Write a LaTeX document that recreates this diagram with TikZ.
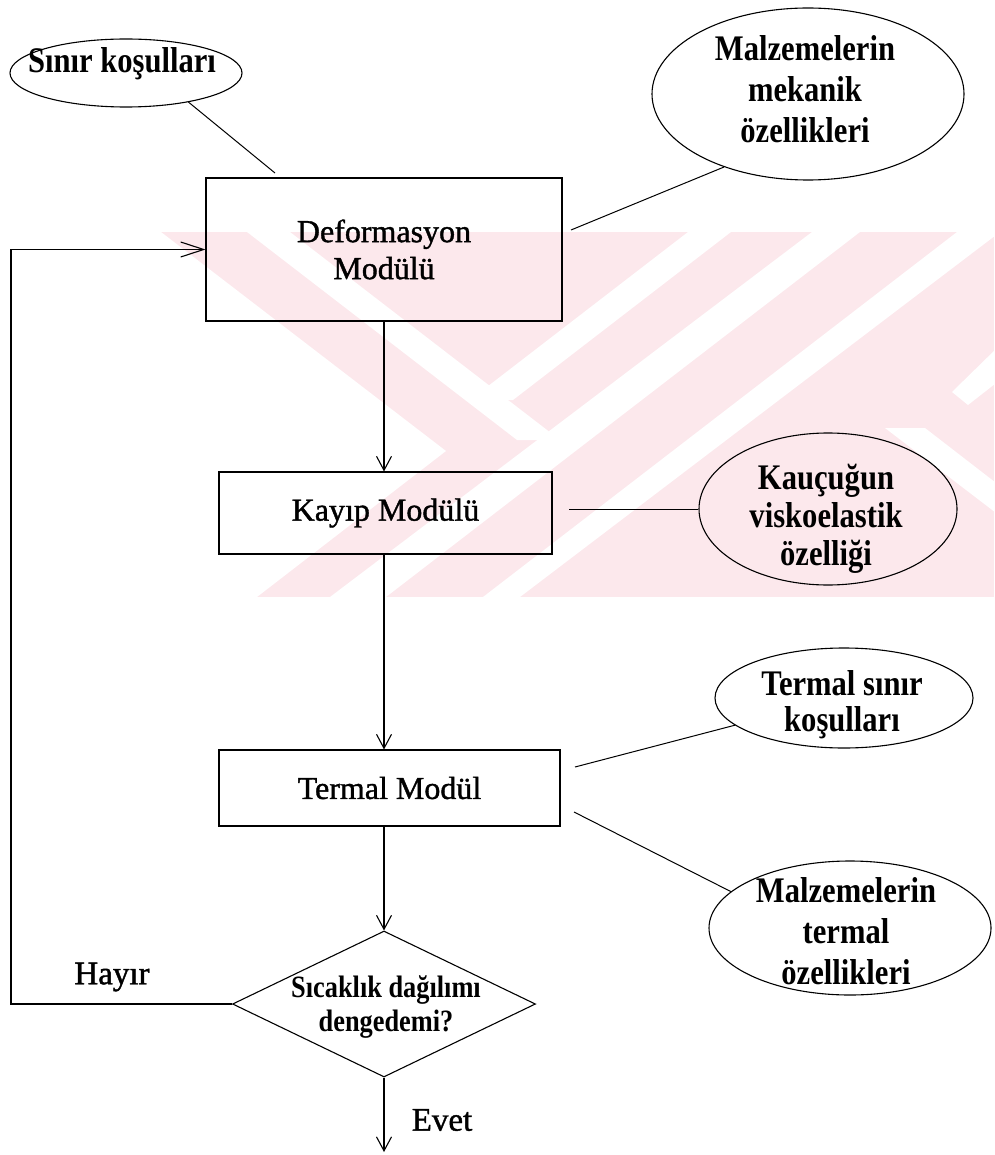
\documentclass[tikz,border=0pt]{standalone}
\usepackage{fontspec}
\setmainfont{Liberation Serif}
\newfontfamily\boxfont{Liberation Serif}[FakeBold=1.2]
\newfontfamily\ovalfont{Liberation Serif}[FakeStretch=0.85]
\usetikzlibrary{shapes.geometric,arrows.meta,calc}
\definecolor{wmpink}{RGB}{252,232,236}
\begin{document}
\begin{tikzpicture}[x=1pt,y=-1pt,
  line width=1.1pt,
  box/.style={draw, rectangle, inner sep=0pt, align=center,
    font=\boxfont\fontsize{32}{37}\selectfont},
  oval/.style={draw, ellipse, inner sep=0pt},
  ovaltext/.style={inner sep=0pt, align=center},
  dec/.style={draw, diamond, inner sep=0pt},
  plain/.style={inner sep=0pt, font=\boxfont\fontsize{33}{38}\selectfont},
  arr/.style={-{Straight Barb[length=14pt,width=15pt]}},
  arrlong/.style={-{Straight Barb[length=23pt,width=15pt]}},
  link/.style={line width=1pt},
]
\useasboundingbox (0,0) rectangle (994,1155);
% faint watermark
\fill[wmpink] (160,232) rectangle (994,597);
\begin{scope}
  \clip (160,232) rectangle (994,597);
  \fill[white] (150,232) -- (161,232) -- (446,451) -- (257,597) -- (150,597) -- cycle;
  \fill[white] (247,232) -- (290,232) -- (560,440) -- (517,440) -- cycle;
  \fill[white] (688,232) -- (731,232) -- (513,400) -- (470,400) -- cycle;
  \fill[white] (812,232) -- (860,232) -- (386,597) -- (330,597) -- cycle;
  \fill[white] (957,232) -- (1000,232) -- (520,597) -- (483,597) -- cycle;
  \fill[white] (885,428) -- (925,428) -- (1000,486) -- (1000,516) -- cycle;
  \fill[white] (1000,345) -- (1000,380) -- (968,405) -- (952,392) -- cycle;
\end{scope}

% boxes
\node[box, minimum width=356pt, minimum height=143pt] (deform) at (384,249.5) {Deformasyon\\Modülü};
\node[box, minimum width=333pt, minimum height=82pt] (kayip) at (385.5,513) {Kayıp Modülü};
\node[box, minimum width=341pt, minimum height=76pt] (termal) at (389.5,788) {Termal Modül};
\node[dec, minimum width=303pt, minimum height=146pt] (karar) at (384,1004) {};
\node[ovaltext, font=\ovalfont\bfseries\fontsize{31}{34}\selectfont] (kararT) at (386,1007) {Sıcaklık dağılımı\\dengedemi?};

% ellipses
\node[oval, minimum width=232pt, minimum height=68pt] (sinir) at (126,73) {};
\node[ovaltext, font=\ovalfont\bfseries\fontsize{36}{40}\selectfont] (sinirT) at (122,64) {Sınır koşulları};
\node[oval, minimum width=312pt, minimum height=172pt] (mek) at (808,94) {};
\node[ovaltext, font=\ovalfont\bfseries\fontsize{36}{41}\selectfont] (mekT) at (805,89) {Malzemelerin\\mekanik\\özellikleri};
\node[oval, minimum width=258pt, minimum height=152pt] (kau) at (828,509) {};
\node[ovaltext, font=\ovalfont\bfseries\fontsize{36}{38}\selectfont] (kauT) at (826,519) {Kauçuğun\\viskoelastik\\özelliği};
\node[oval, minimum width=258pt, minimum height=100pt] (ts) at (844,698) {};
\node[ovaltext, font=\ovalfont\bfseries\fontsize{36}{36}\selectfont] (tsT) at (842,705) {Termal sınır\\koşulları};
\node[oval, minimum width=282pt, minimum height=134pt] (to) at (850,928) {};
\node[ovaltext, font=\ovalfont\bfseries\fontsize{36}{41}\selectfont] (toT) at (846,931) {Malzemelerin\\termal\\özellikleri};

% free labels
\node[plain] (hayir) at (112,977) {Hayır};
\node[plain] (evet) at (442,1120) {Evet};

% free ends
\coordinate (c1) at (275,173);
\coordinate (c2) at (571,230);
\coordinate (c3) at (569,509);
\coordinate (c4) at (575,767);
\coordinate (c5) at (574,812);
\coordinate (loop) at (11,1004);
\coordinate (fin) at (384,1152);

% flow
\draw[arr] (deform.south) -- (deform.south |- kayip.north);
\draw[arr] (deform.south |- kayip.south) -- (deform.south |- termal.north);
\draw[arr] (deform.south |- termal.south) -- (karar.north);
\draw[arr] (karar.south) -- (fin);
\draw[arrlong] (karar.west) -- (loop) |- (deform.west);

% attachments
\draw[link] (sinir.-25) -- (c1);
\draw[link] (c2) -- (mek.221);
\draw[link] (c3) -- (kau.west);
\draw[link] (c4) -- (ts.194);
\draw[link] (c5) -- (to.163);
\end{tikzpicture}
\end{document}
